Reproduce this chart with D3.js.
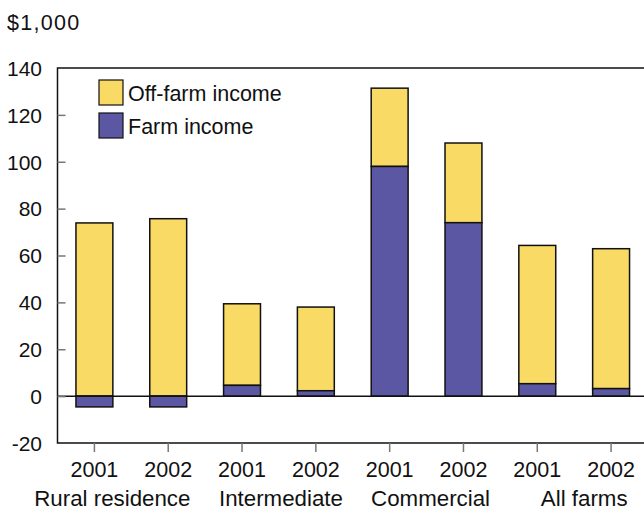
<!DOCTYPE html>
<html>
<head>
<meta charset="utf-8">
<script src="https://cdn.jsdelivr.net/npm/d3@7"></script>
<style>
  html, body { margin: 0; padding: 0; background: #fff; }
  svg { display: block; font-family: "Liberation Sans", Arial, sans-serif; }
</style>
</head>
<body>
<svg id="chart" width="644" height="510"></svg>
<script>
// Farm household income by farm type, 2001 and 2002 ($1,000)
const groups = ["Rural residence", "Intermediate", "Commercial", "All farms"];
const years = ["2001", "2002", "2001", "2002", "2001", "2002", "2001", "2002"];
const farmIncome = [-4.6, -4.6, 4.6, 2.3, 98, 74, 5.3, 3.2];
const offFarmIncome = [73.9, 75.7, 34.8, 35.7, 33.4, 34, 59, 59.7];
const yTicks = [-20, 0, 20, 40, 60, 80, 100, 120, 140];
const seriesNames = ["Off-farm income", "Farm income"];
const colors = { offFarm: "#f8da64", farm: "#5b57a3" };

const fontSize = 21.5;
// horizontal nudges for the group captions under each pair of bars
const groupLabelShift = [-19, 2, 4, 10];

const svg = d3.select("#chart");
const plotLeft = 57.5, plotRight = 648, plotTop = 68, plotBottom = 443;

const x = d3.scaleBand().domain(d3.range(years.length)).range([plotLeft, plotRight])
  .paddingInner(0.5).paddingOuter(0.25);
const y = d3.scaleLinear().domain([-20, 140]).range([plotBottom, plotTop]);

// Bars: farm income from zero (may be negative); off-farm stacked above max(0, farm)
const bars = years.map((yr, i) => {
  const f = farmIncome[i];
  const base = Math.max(0, f);
  return { i, f, base, end: base + offFarmIncome[i] };
});

const g = svg.append("g");

// Off-farm segments
g.selectAll("rect.off").data(bars).join("rect")
  .attr("class", "off")
  .attr("x", d => x(d.i))
  .attr("width", x.bandwidth())
  .attr("y", d => y(d.end))
  .attr("height", d => y(d.base) - y(d.end))
  .attr("fill", colors.offFarm)
  .attr("stroke", "#111").attr("stroke-width", 1.5);

// Farm segments
g.selectAll("rect.farm").data(bars).join("rect")
  .attr("class", "farm")
  .attr("x", d => x(d.i))
  .attr("width", x.bandwidth())
  .attr("y", d => y(Math.max(0, d.f)))
  .attr("height", d => Math.abs(y(d.f) - y(0)))
  .attr("fill", colors.farm)
  .attr("stroke", "#111").attr("stroke-width", 1.5);

// Zero line
svg.append("line")
  .attr("x1", plotLeft).attr("x2", 644)
  .attr("y1", y(0)).attr("y2", y(0))
  .attr("stroke", "#111").attr("stroke-width", 1.5);

// Frame: left, top, bottom
svg.append("path")
  .attr("d", `M${644},${plotTop}H${plotLeft}V${plotBottom}H${644}`)
  .attr("fill", "none").attr("stroke", "#111").attr("stroke-width", 1.5);

// Y axis ticks (inside) and labels
const yAxis = d3.axisRight(y).tickValues(yTicks).tickSize(8).tickFormat("");
const ya = svg.append("g").attr("transform", `translate(${plotLeft},0)`).call(yAxis);
ya.select(".domain").remove();
ya.selectAll(".tick line").attr("stroke", "#777").attr("stroke-width", 1.5);
ya.selectAll(".tick").filter(d => d === 140 || d === -20).remove();

svg.selectAll("text.ylab").data(yTicks).join("text")
  .attr("class", "ylab")
  .attr("x", 42).attr("y", d => y(d) + 7.8)
  .attr("text-anchor", "end")
  .attr("font-size", 21).attr("fill", "#111")
  .text(d => d);

// X axis ticks (below) and year labels
const xAxis = d3.axisBottom(x).tickSize(9).tickFormat(i => years[i]);
const xa = svg.append("g").attr("transform", `translate(0,${plotBottom})`).call(xAxis);
xa.select(".domain").remove();
xa.selectAll(".tick line").attr("stroke", "#777").attr("stroke-width", 1.5);
xa.selectAll(".tick text").attr("font-size", fontSize).attr("fill", "#111")
  .attr("font-family", "Liberation Sans, Arial, sans-serif")
  .attr("y", 33.5).attr("dy", 0);

// Group labels
svg.selectAll("text.grp").data(groups).join("text")
  .attr("class", "grp")
  .attr("x", (d, k) => (x(2 * k) + x(2 * k + 1) + x.bandwidth()) / 2 + groupLabelShift[k])
  .attr("y", 506)
  .attr("text-anchor", "middle")
  .attr("font-size", 22.3).attr("fill", "#111")
  .text(d => d);

// Unit label
svg.append("text").attr("x", 7).attr("y", 29.5)
  .attr("font-size", 21.5).attr("letter-spacing", 1.3).attr("fill", "#111").text("$1,000");

// Legend
const legend = svg.append("g").attr("transform", "translate(99,80)");
const legendColors = [colors.offFarm, colors.farm];
seriesNames.forEach((name, k) => {
  const row = legend.append("g").attr("transform", `translate(0,${k * 33})`);
  row.append("rect").attr("width", 24).attr("height", 25)
    .attr("fill", legendColors[k]).attr("stroke", "#111").attr("stroke-width", 1.2);
  row.append("text").attr("x", 29).attr("y", 21)
    .attr("font-size", fontSize).attr("fill", "#111").text(name);
});
</script>
</body>
</html>
